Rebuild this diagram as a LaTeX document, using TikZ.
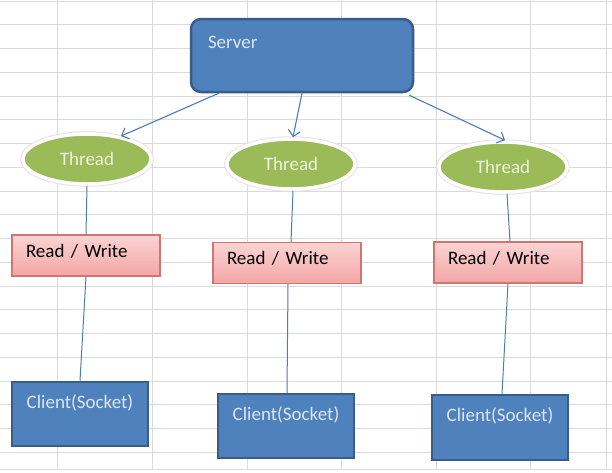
\documentclass[tikz,border=0pt]{standalone}
\usepackage{fontspec}
\setmainfont{Carlito}
\usetikzlibrary{shapes.geometric,arrows.meta}
\definecolor{gridgray}{HTML}{DADADA}
\definecolor{boxblue}{HTML}{4F81BD}
\definecolor{boxborder}{HTML}{385D8A}
\definecolor{thgreen}{HTML}{9BBB59}
\definecolor{pinktop}{HTML}{FBD3D3}
\definecolor{pinkbot}{HTML}{F4A6A6}
\definecolor{pinkborder}{HTML}{D27470}
\definecolor{linkblue}{HTML}{4F7BB8}
\definecolor{lighttext}{HTML}{DCE6F2}
\definecolor{greentext}{HTML}{EEF3E0}
\tikzset{
  txt/.style={font=\fontsize{19}{22}\selectfont},
  serverbox/.style={txt, rectangle, rounded corners=10pt, draw=boxborder, line width=2.5pt,
    fill=boxblue, text=lighttext, minimum width=222pt, minimum height=73pt,
    inner xsep=17pt, inner ysep=0pt, text width=188pt, align=left,
    text height=29.5pt, text depth=43.5pt},
  threadnode/.style={txt, ellipse, fill=thgreen, draw=white, line width=3.5pt,
    preaction={draw=gray!22, line width=5.5pt},
    text=greentext, minimum width=128pt, minimum height=50pt, inner sep=0pt},
  rwbox/.style={txt, rectangle, draw=pinkborder, line width=1.2pt,
    top color=pinktop, bottom color=pinkbot, text=black,
    minimum width=148pt, minimum height=41pt, inner xsep=14pt, inner ysep=0pt,
    text width=120pt, align=left, text height=12pt, text depth=9pt},
  clientbox/.style={txt, rectangle, draw=boxborder, line width=2.5pt, fill=boxblue,
    text=lighttext, minimum width=136pt, minimum height=64pt,
    inner xsep=8pt, inner ysep=0pt, text width=120pt, align=center,
    text height=26pt, text depth=38pt},
  link/.style={draw=linkblue, line width=1pt},
  arrowlink/.style={draw=linkblue, line width=1.1pt, -{Straight Barb[length=6pt,width=12pt]}},
}
\begin{document}
\begin{tikzpicture}[x=1pt,y=-1pt]
\useasboundingbox (0,0) rectangle (612,472);
\fill[white] (0,0) rectangle (612,472);
% spreadsheet grid
\foreach \k in {0,...,19} {
  \draw[gridgray, line width=0.9pt] (0,{1+23.75*\k}) -- (612,{1+23.75*\k});
}
\draw[gridgray, line width=0.9pt] (0,469) -- (612,469);
\foreach \gx in {57,152,247,341.5,436,530,606} {
  \draw[gridgray, line width=0.9pt] (\gx,0) -- (\gx,469);
}
% nodes
\node[serverbox] (srv) at (302,55.5) {Server};
\node[threadnode] (t1) at (87,159) {Thread};
\node[threadnode] (t2) at (291,164) {Thread};
\node[threadnode] (t3) at (503,167) {Thread};
\node[rwbox] (r1) at (86,255.5) {Read / Write};
\node[rwbox] (r2) at (287,263) {Read / Write};
\node[rwbox] (r3) at (508,262.5) {Read / Write};
\node[clientbox] (c1) at (80,414) {Client(Socket)};
\node[clientbox] (c2) at (286,426) {Client(Socket)};
\node[clientbox, minimum height=65pt, text depth=39pt] (c3) at (500,427.5) {Client(Socket)};
% arrows from server to threads
\draw[arrowlink] ([xshift=29pt]srv.south west) -- (t1.34);
\draw[arrowlink] (srv.south) -- ([xshift=2pt]t2.north);
\draw[arrowlink] ([xshift=-5pt,yshift=-2pt]srv.south east) -- ([xshift=2pt]t3.north);
% vertical links
\draw[link] (t1.south) -- (r1.north);
\draw[link] (r1.south) -- (c1.north);
\draw[link] ([xshift=2pt]t2.south) -- ([xshift=4pt]r2.north);
\draw[link] ([xshift=1pt]r2.south) -- ([xshift=1pt]c2.north);
\draw[link] ([xshift=4pt]t3.south) -- ([xshift=2pt]r3.north);
\draw[link] (r3.south) -- ([xshift=2pt]c3.north);
\end{tikzpicture}
\end{document}
